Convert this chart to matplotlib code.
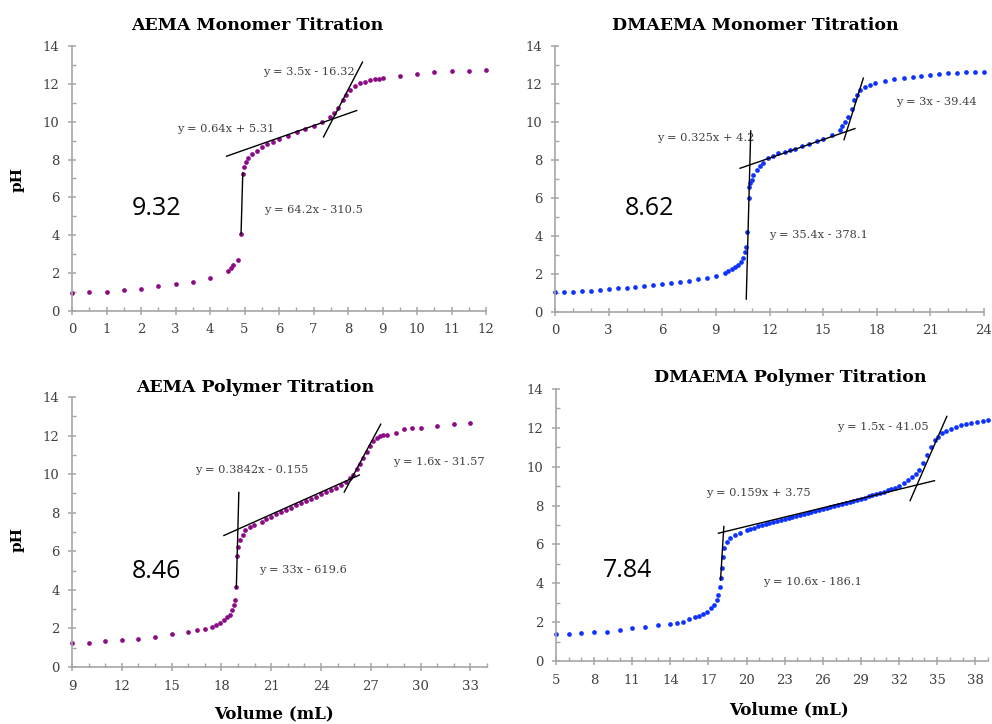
import matplotlib.pyplot as plt
from matplotlib.ticker import MultipleLocator

# ---- data ----
aema_mono_vol = [0, 0.5, 1, 1.5, 2, 2.5, 3, 3.5, 4, 4.53, 4.6, 4.68, 4.82, 4.9, 4.95,
                 4.99, 5.04, 5.11, 5.21, 5.35, 5.5, 5.64, 5.83, 6.01, 6.27, 6.51, 6.75,
                 7.01, 7.26, 7.48, 7.6, 7.72, 7.85, 7.94, 8.06, 8.2, 8.35, 8.49, 8.64,
                 8.78, 8.91, 9.0, 9.5, 10, 10.5, 11, 11.5, 12]
aema_mono_ph = [0.95, 0.99, 0.99, 1.11, 1.18, 1.3, 1.41, 1.55, 1.73, 2.11, 2.25, 2.43,
                2.69, 4.05, 7.25, 7.62, 7.85, 8.06, 8.27, 8.45, 8.64, 8.8, 8.95, 9.08,
                9.26, 9.44, 9.6, 9.77, 10.0, 10.23, 10.44, 10.74, 11.14, 11.41, 11.67,
                11.88, 12.03, 12.11, 12.19, 12.24, 12.27, 12.29, 12.43, 12.54, 12.61,
                12.66, 12.68, 12.73]

dmaema_mono_vol = [0, 0.5, 1, 1.5, 2, 2.5, 3, 3.5, 4, 4.5, 5, 5.5, 6, 6.5, 7, 7.5, 8,
                   8.5, 9, 9.51, 9.7, 9.88, 10.07, 10.26, 10.41, 10.54, 10.63, 10.67,
                   10.75, 10.85, 10.88, 10.92, 11.0, 11.1, 11.28, 11.47, 11.65, 11.9,
                   12.2, 12.49, 12.87, 13.15, 13.43, 13.8, 14.23, 14.64, 15.01, 15.48,
                   15.94, 16.04, 16.22, 16.41, 16.6, 16.75, 16.88, 17.06, 17.34, 17.62,
                   17.9, 18.46, 18.97, 19.5, 20, 20.5, 21, 21.5, 22, 22.5, 23, 23.5, 24]
dmaema_mono_ph = [1.04, 1.05, 1.07, 1.08, 1.12, 1.17, 1.2, 1.25, 1.28, 1.33, 1.38, 1.43,
                  1.48, 1.53, 1.58, 1.65, 1.72, 1.8, 1.88, 2.04, 2.16, 2.25, 2.35, 2.5,
                  2.65, 2.82, 3.17, 3.44, 4.23, 5.98, 6.6, 6.77, 6.95, 7.2, 7.47, 7.68,
                  7.86, 8.09, 8.21, 8.35, 8.44, 8.52, 8.6, 8.74, 8.84, 8.98, 9.12, 9.32,
                  9.6, 9.79, 10.0, 10.28, 10.7, 11.16, 11.4, 11.68, 11.86, 11.95, 12.03,
                  12.17, 12.26, 12.33, 12.39, 12.44, 12.49, 12.53, 12.56, 12.58, 12.61,
                  12.63, 12.63]

aema_poly_vol = [9, 10, 11, 12, 13, 14, 15, 16, 16.5, 17, 17.45, 17.65, 17.9, 18.15,
                 18.35, 18.5, 18.65, 18.75, 18.8, 18.88, 18.93, 19.0, 19.15, 19.3, 19.45,
                 19.7, 19.95, 20.45, 20.7, 21.0, 21.3, 21.6, 21.9, 22.2, 22.5, 22.8, 23.1,
                 23.4, 23.7, 24.0, 24.3, 24.6, 24.9, 25.2, 25.5, 25.75, 25.95, 26.15,
                 26.35, 26.55, 26.75, 26.95, 27.15, 27.35, 27.55, 27.75, 28.0, 28.5, 29,
                 29.5, 30, 31, 32, 33]
aema_poly_ph = [1.23, 1.23, 1.35, 1.41, 1.47, 1.54, 1.71, 1.81, 1.9, 1.97, 2.08, 2.17,
                2.3, 2.43, 2.57, 2.72, 2.95, 3.21, 3.47, 4.13, 5.75, 6.24, 6.58, 6.84,
                7.1, 7.25, 7.36, 7.53, 7.65, 7.8, 7.92, 8.04, 8.16, 8.27, 8.38, 8.5,
                8.61, 8.72, 8.83, 8.95, 9.06, 9.17, 9.28, 9.42, 9.6, 9.78, 9.98, 10.25,
                10.55, 10.85, 11.15, 11.45, 11.7, 11.86, 11.96, 12.02, 12.05, 12.15,
                12.33, 12.38, 12.41, 12.52, 12.62, 12.67]

dmaema_poly_vol = [5, 6, 7, 8, 9, 10, 11, 12, 13, 14, 14.55, 15.03, 15.5, 15.94, 16.29,
                   16.6, 16.86, 17.18, 17.44, 17.65, 17.78, 17.91, 17.99, 18.07, 18.15,
                   18.25, 18.44, 18.7, 19.09, 19.49, 20.0, 20.3, 20.6, 20.9, 21.2, 21.5,
                   21.8, 22.1, 22.4, 22.7, 23.0, 23.3, 23.6, 23.9, 24.2, 24.5, 24.8, 25.1,
                   25.4, 25.7, 26.0, 26.3, 26.6, 26.9, 27.2, 27.5, 27.8, 28.1, 28.4, 28.7,
                   29.0, 29.3, 29.6, 29.9, 30.2, 30.5, 30.8, 31.1, 31.4, 31.7, 32.0, 32.35,
                   32.7, 33.0, 33.3, 33.6, 33.9, 34.2, 34.5, 34.8, 35.05, 35.35, 35.7,
                   36.1, 36.5, 36.9, 37.3, 37.7, 38.1, 38.6, 39.0]
dmaema_poly_ph = [1.37, 1.37, 1.42, 1.49, 1.49, 1.61, 1.68, 1.75, 1.84, 1.9, 1.97, 2.02,
                  2.14, 2.25, 2.31, 2.4, 2.54, 2.71, 2.88, 3.14, 3.4, 3.79, 4.26, 4.77,
                  5.37, 5.8, 6.14, 6.35, 6.49, 6.61, 6.74, 6.8, 6.87, 6.93, 7.0, 7.06,
                  7.11, 7.16, 7.22, 7.27, 7.33, 7.38, 7.43, 7.48, 7.53, 7.58, 7.62, 7.67,
                  7.72, 7.77, 7.82, 7.87, 7.92, 7.97, 8.02, 8.07, 8.12, 8.18, 8.23, 8.29,
                  8.35, 8.41, 8.47, 8.53, 8.59, 8.65, 8.71, 8.78, 8.85, 8.93, 9.02, 9.15,
                  9.3, 9.45, 9.62, 9.85, 10.2, 10.6, 11.0, 11.35, 11.55, 11.72, 11.85,
                  11.95, 12.05, 12.15, 12.2, 12.25, 12.28, 12.35, 12.4]

# trend lines: slope, intercept, x start, x end, label
aema_mono_fits = [(0.64, 5.31, 4.48, 8.25, "y = 0.64x + 5.31"),
                  (3.5, -16.32, 7.29, 8.42, "y = 3.5x - 16.32"),
                  (64.2, -310.5, 4.9, 4.95, "y = 64.2x - 310.5")]
dmaema_mono_fits = [(0.325, 4.2, 10.35, 16.78, "y = 0.325x + 4.2"),
                    (3, -39.44, 16.17, 17.25, "y = 3x - 39.44"),
                    (35.4, -378.1, 10.70, 10.95, "y = 35.4x - 378.1")]
aema_poly_fits = [(0.3842, -0.155, 18.15, 26.31, "y = 0.3842x - 0.155"),
                  (1.6, -31.57, 25.4, 27.6, "y = 1.6x - 31.57"),
                  (33, -619.6, 18.9, 19.05, "y = 33x - 619.6")]
dmaema_poly_fits = [(0.159, 3.75, 17.78, 34.79, "y = 0.159x + 3.75"),
                    (1.5, -41.05, 32.87, 35.76, "y = 1.5x - 41.05"),
                    (10.6, -186.1, 17.95, 18.21, "y = 10.6x - 186.1")]

# where each fit label sits (data coords, left edge)
aema_mono_lab = [(3.04, 9.6), (5.54, 12.6), (5.57, 5.33)]
dmaema_mono_lab = [(5.69, 9.14), (19.08, 11.03), (11.97, 4.05)]
aema_poly_lab = [(16.44, 10.21), (28.33, 10.64), (20.27, 5.03)]
dmaema_poly_lab = [(16.79, 8.66), (27.1, 12.06), (21.27, 4.08)]

pka_values = ["9.32", "8.62", "8.46", "7.84"]
pka_pos = [(1.73, 5.44), (3.92, 5.46), (12.6, 4.94), (8.72, 4.68)]

titles = ["AEMA Monomer Titration", "DMAEMA Monomer Titration",
          "AEMA Polymer Titration", "DMAEMA Polymer Titration"]

PURPLE = "#8c0c86"
BLUE = "#0f33ff"
GRAY = "#a6a6a6"
TXT = "#404040"
SERIF = "DejaVu Serif"

fig = plt.figure(figsize=(9.92, 7.24), dpi=100)

def px2fig(l, r, t, b):
    return [l / 992, 1 - b / 724, (r - l) / 992, (b - t) / 724]

panels = [
    dict(rect=px2fig(72, 486, 46, 311), vol=aema_mono_vol, ph=aema_mono_ph, c=PURPLE,
         fits=aema_mono_fits, labs=aema_mono_lab, xlim=(0, 12), major=1, minor=0.5,
         title_xy=(257, 25), xlab=None, ylab=(18, 180)),
    dict(rect=px2fig(555, 984, 46, 312), vol=dmaema_mono_vol, ph=dmaema_mono_ph, c=BLUE,
         fits=dmaema_mono_fits, labs=dmaema_mono_lab, xlim=(0, 24), major=3, minor=1,
         title_xy=(755, 25), xlab=None, ylab=None),
    dict(rect=px2fig(72, 487, 397, 667), vol=aema_poly_vol, ph=aema_poly_ph, c=PURPLE,
         fits=aema_poly_fits, labs=aema_poly_lab, xlim=(9, 34), major=3, minor=1,
         title_xy=(255, 387), xlab=(274, 714), ylab=(18, 540)),
    dict(rect=px2fig(556, 988, 389, 661), vol=dmaema_poly_vol, ph=dmaema_poly_ph, c=BLUE,
         fits=dmaema_poly_fits, labs=dmaema_poly_lab, xlim=(5, 39), major=3, minor=1,
         title_xy=(790, 377), xlab=(789, 710), ylab=None),
]

for i, p in enumerate(panels):
    ax = fig.add_axes(p["rect"])
    ax.plot(p["vol"], p["ph"], "o", color=p["c"], ms=3.4, mew=0, clip_on=False, zorder=2)
    for (m, b, x0, x1, lab), (lx, ly) in zip(p["fits"], p["labs"]):
        ax.plot([x0, x1], [m * x0 + b, m * x1 + b], color="black", lw=1.0, zorder=3)
        ax.text(lx, ly, lab, fontsize=8.2, family=SERIF, color=TXT, va="center", ha="left")
    ax.text(pka_pos[i][0], pka_pos[i][1], pka_values[i], fontsize=18, family="Open Sans",
            color="black", va="center", ha="left")

    xmin, xmax = p["xlim"]
    ax.set_xlim(xmin, xmax)
    ax.set_ylim(0, 14)
    ax.xaxis.set_major_locator(MultipleLocator(p["major"], offset=xmin % p["major"]))
    ax.xaxis.set_minor_locator(MultipleLocator(p["minor"]))
    ax.yaxis.set_major_locator(MultipleLocator(2))
    ax.yaxis.set_minor_locator(MultipleLocator(1))
    for s in ["top", "right"]:
        ax.spines[s].set_visible(False)
    for s in ["left", "bottom"]:
        ax.spines[s].set_color(GRAY)
        ax.spines[s].set_linewidth(1.2)
    ax.tick_params(which="major", direction="inout", length=6, width=1.1, color=GRAY,
                   labelsize=9.5, labelcolor=TXT, pad=6)
    ax.tick_params(which="minor", direction="in", length=3, width=1.0, color=GRAY)
    for t in ax.get_xticklabels() + ax.get_yticklabels():
        t.set_family(SERIF)

    fig.text(p["title_xy"][0] / 992, 1 - p["title_xy"][1] / 724, titles[i],
             fontsize=12.5, family=SERIF, weight="bold", ha="center", va="center")
    if p["xlab"]:
        fig.text(p["xlab"][0] / 992, 1 - p["xlab"][1] / 724, "Volume (mL)",
                 fontsize=12, family=SERIF, weight="bold", ha="center", va="center")
    if p["ylab"]:
        fig.text(p["ylab"][0] / 992, 1 - p["ylab"][1] / 724, "pH", rotation=90,
                 fontsize=11, family=SERIF, weight="bold", ha="center", va="center")

fig.savefig("out.png", dpi=100)
